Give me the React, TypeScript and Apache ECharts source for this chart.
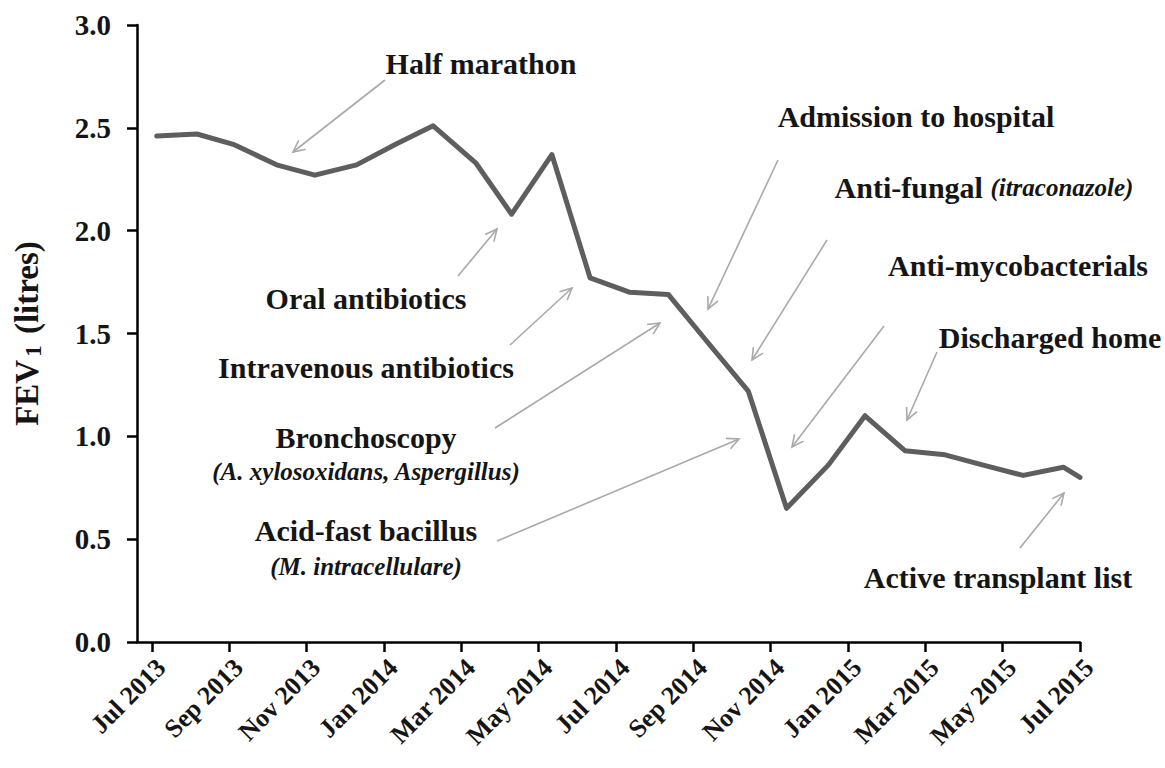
import React, { useEffect, useRef } from "react";
import * as echarts from "echarts";

// ---- data ----
const tickMonths = [0, 2, 4, 6, 8, 10, 12, 14, 16, 18, 20, 22, 24];
const tickLabels = [
  "Jul 2013", "Sep 2013", "Nov 2013", "Jan 2014", "Mar 2014", "May 2014", "Jul 2014",
  "Sep 2014", "Nov 2014", "Jan 2015", "Mar 2015", "May 2015", "Jul 2015",
];
// months since Jul 2013
const monthsSinceJul2013 = [
  0.12, 1.16, 2.1, 3.22, 4.21, 5.29, 6.3, 7.27, 8.37, 9.3, 10.34, 11.33, 12.36, 13.35,
  14.4, 15.42, 16.41, 17.49, 18.44, 19.47, 20.51, 21.5, 22.53, 23.57, 24.0,
];
const fev1Litres = [
  2.46, 2.47, 2.42, 2.32, 2.27, 2.32, 2.42, 2.51, 2.33, 2.08, 2.37, 1.77, 1.7, 1.69,
  1.45, 1.22, 0.65, 0.86, 1.1, 0.93, 0.91, 0.86, 0.81, 0.85, 0.8,
];
const yTicks = [0, 0.5, 1.0, 1.5, 2.0, 2.5, 3.0];

// ---- annotations (layout in pixels) ----
type Ann = { text: string; x: number; y: number; from?: number[]; to?: number[] };
const annotations: Ann[] = [
  { text: "{b|Half marathon}", x: 481, y: 63, from: [385, 80], to: [293, 152] },
  { text: "{b|Oral antibiotics}", x: 366, y: 298, from: [458, 276], to: [497, 229] },
  { text: "{b|Intravenous antibiotics}", x: 366, y: 367, from: [510, 345], to: [572, 288] },
  { text: "{b|Bronchoscopy}", x: 366, y: 437, from: [495, 428], to: [660, 323] },
  { text: "{i|(A. xylosoxidans, Aspergillus)}", x: 366, y: 471 },
  { text: "{b|Acid-fast bacillus}", x: 366, y: 530, from: [497, 541], to: [739, 439] },
  { text: "{i|(M. intracellulare)}", x: 366, y: 566 },
  { text: "{b|Admission to hospital}", x: 916, y: 116, from: [778, 160], to: [708, 309] },
  { text: "{b|Anti-fungal }{i|(itraconazole)}", x: 984, y: 187, from: [827, 240], to: [752, 360] },
  { text: "{b|Anti-mycobacterials}", x: 1018, y: 265, from: [884, 326], to: [792, 447] },
  { text: "{b|Discharged home}", x: 1050, y: 337, from: [937, 352], to: [907, 420] },
  { text: "{b|Active transplant list}", x: 998, y: 577, from: [1020, 548], to: [1064, 493] },
];

const SERIF = "'Liberation Serif', 'Times New Roman', Times, serif";
const ARROW = "#a9a9a9";
const INK = "#151515";

function arrowElements(from: number[], to: number[]) {
  const dx = to[0] - from[0];
  const dy = to[1] - from[1];
  const ang = Math.atan2(dy, dx);
  const len = 13;
  const spread = 0.45;
  const p1 = [to[0] - len * Math.cos(ang - spread), to[1] - len * Math.sin(ang - spread)];
  const p2 = [to[0] - len * Math.cos(ang + spread), to[1] - len * Math.sin(ang + spread)];
  return [
    {
      type: "line",
      shape: { x1: from[0], y1: from[1], x2: to[0], y2: to[1] },
      style: { stroke: ARROW, lineWidth: 1.6 },
      silent: true,
    },
    {
      type: "polyline",
      shape: { points: [p1, to, p2] },
      style: { stroke: ARROW, lineWidth: 1.6, fill: null },
      silent: true,
    },
  ];
}

export default function App() {
  const ref = useRef<HTMLDivElement>(null);

  useEffect(() => {
    if (!ref.current) return;
    const chart = echarts.init(ref.current, undefined, { renderer: "svg" });

    const rich = {
      b: { fontFamily: SERIF, fontWeight: "bold", fontSize: 30, color: INK },
      i: { fontFamily: SERIF, fontWeight: "bold", fontStyle: "italic", fontSize: 25, color: "#222" },
    };

    const graphics: any[] = [];
    annotations.forEach((a) => {
      graphics.push({
        type: "text",
        x: a.x,
        y: a.y,
        silent: true,
        style: {
          text: a.text,
          rich,
          align: "center",
          verticalAlign: "middle",
          fill: INK,
        },
      });
      if (a.from && a.to) graphics.push(...arrowElements(a.from, a.to));
    });

    chart.setOption({
      animation: false,
      backgroundColor: "#ffffff",
      grid: { left: 137, right: 85, top: 25, bottom: 126, containLabel: false },
      xAxis: {
        type: "value",
        min: -0.39,
        max: 24,
        splitLine: { show: false },
        axisLine: { show: true, onZero: false, lineStyle: { color: "#000", width: 2.5 } },
        axisTick: {
          show: true,
          length: 10,
          customValues: tickMonths,
          lineStyle: { color: "#000", width: 2.5 },
        },
        axisLabel: {
          customValues: tickMonths,
          rotate: 45,
          margin: 12,
          verticalAlign: "top",
          fontFamily: SERIF,
          fontWeight: "bold",
          fontSize: 26,
          color: INK,
          formatter: (v: number) => {
            const i = tickMonths.indexOf(Math.round(v));
            return i >= 0 ? tickLabels[i] : "";
          },
        },
      },
      yAxis: {
        type: "value",
        min: 0,
        max: 3,
        interval: 0.5,
        splitLine: { show: false },
        axisLine: { show: true, onZero: false, lineStyle: { color: "#000", width: 2.5 } },
        axisTick: { show: true, length: 10, lineStyle: { color: "#000", width: 2.5 } },
        axisLabel: {
          margin: 26,
          fontFamily: SERIF,
          fontWeight: "bold",
          fontSize: 29,
          color: INK,
          formatter: (v: number) => (yTicks.indexOf(v) >= 0 ? v.toFixed(1) : ""),
        },
        name: "{a|FEV}{s|1}{a| (litres)}",
        nameLocation: "middle",
        nameRotate: 90,
        nameGap: 92,
        nameTextStyle: {
          rich: {
            a: { fontFamily: SERIF, fontWeight: "bold", fontSize: 33, color: INK },
            s: {
              fontFamily: SERIF,
              fontWeight: "bold",
              fontSize: 23,
              color: INK,
              verticalAlign: "bottom",
              padding: [14, 3, 0, 3],
            },
          },
        },
      },
      series: [
        {
          type: "line",
          data: monthsSinceJul2013.map((m, i) => [m, fev1Litres[i]]),
          showSymbol: false,
          symbol: "none",
          clip: false,
          lineStyle: { color: "#5e5e5e", width: 5, cap: "round", join: "round" },
        },
      ],
      graphic: graphics,
    });

    return () => chart.dispose();
  }, []);

  return (
    <div
      ref={ref}
      style={{ position: "fixed", left: 0, top: 0, width: 1165, height: 768, background: "#fff" }}
    />
  );
}
